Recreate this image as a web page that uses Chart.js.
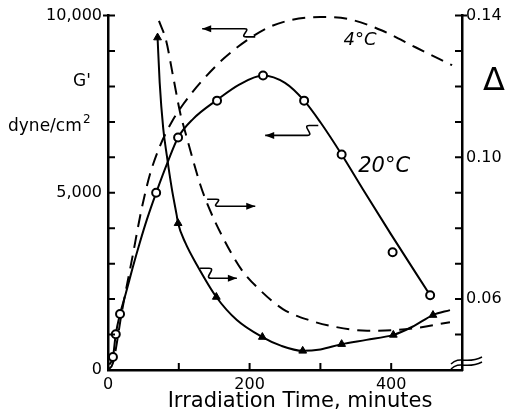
<!DOCTYPE html>
<html>
<head>
<meta charset="utf-8">
<script src="https://cdn.jsdelivr.net/npm/chart.js@4"></script>
<style>
  body { margin: 0; background: #fff; }
  canvas { display: block; }
</style>
</head>
<body>
<canvas id="c" width="507" height="417"></canvas>
<script>
// G' at 20°C - measured points (open circles)
const g20Time = [7, 11, 17, 68, 99, 154, 219, 277, 330, 402, 455];
const g20Val  = [366, 1010, 1580, 5000, 6560, 7600, 8310, 7600, 6080, 3320, 2110];
// G' at 20°C - drawn curve
const g20CurveTime = [2, 7, 11, 17, 25, 35, 45, 55, 68, 85, 99, 120, 154, 186, 219, 250, 277, 300, 330, 360, 400, 455];
const g20CurveVal  = [150, 366, 1010, 1580, 2150, 2900, 3600, 4250, 5000, 5900, 6560, 7080, 7620, 8060, 8310, 8100, 7600, 6990, 6080, 5100, 3820, 2110];

// G' at 4°C - dashed curve
const g4Time = [0, 7, 20, 35, 47, 59, 73, 90, 107, 131, 163, 196, 228, 260, 300, 340, 387, 435, 486];
const g4Val  = [0, 200, 1690, 3240, 4500, 5500, 6300, 7000, 7520, 8120, 8780, 9300, 9680, 9880, 9960, 9900, 9580, 9100, 8600];

// Δ at 20°C - measured points (filled triangles)
const d20Time = [70, 99, 153, 218, 275, 330, 403, 459];
const d20Val  = [0.1338, 0.0814, 0.0606, 0.0493, 0.0454, 0.0473, 0.0499, 0.0555];
// Δ at 20°C - drawn curve
const d20CurveTime = [70, 73, 78, 83, 90, 97, 99, 109, 126, 153, 182, 218, 245, 275, 300, 330, 365, 403, 430, 459, 483];
const d20CurveVal  = [0.1338, 0.1211, 0.1082, 0.1006, 0.0913, 0.0837, 0.0814, 0.0760, 0.0695, 0.0606, 0.0541, 0.0493, 0.0468, 0.0454, 0.0458, 0.0473, 0.0485, 0.0499, 0.0522, 0.0555, 0.0569];

// Δ at 4°C - dashed curve
const d4Time = [72, 82, 92, 102, 110, 119, 130, 140, 162, 189, 215, 247, 285, 320, 366, 400, 440, 483];
const d4Val  = [0.1385, 0.1330, 0.1228, 0.1125, 0.1065, 0.1000, 0.0925, 0.0870, 0.0775, 0.0682, 0.0625, 0.0572, 0.0540, 0.0522, 0.0511, 0.0512, 0.0520, 0.0535];

// tick labels shown
const timeLabels = [0, 200, 400];
const gLabels = [0, 5000, 10000];
const dLabels = [0.06, 0.10, 0.14];

const pts = (xs, ys) => xs.map((x, i) => ({ x: x, y: ys[i] }));

const FONT = "'DejaVu Sans', sans-serif";

// arrows: tail on the curve, head points to the axis
const arrows = [
  { axis: "yG", tail: [208, 9400], head: [133, 9630] },
  { axis: "yG", tail: [297, 6900], head: [222, 6620] },
  { axis: "yD", tail: [140, 0.0882], head: [208, 0.0862] },
  { axis: "yD", tail: [130, 0.0687], head: [182, 0.0659] }
];

const extras = {
  id: "extras",
  afterDraw(chart) {
    const ctx = chart.ctx;
    const { left, right, top, bottom } = chart.chartArea;
    const sx = chart.scales.x, sg = chart.scales.yG, sd = chart.scales.yD;
    ctx.save();
    ctx.strokeStyle = "#000";
    ctx.fillStyle = "#000";
    ctx.lineWidth = 2;

    // inward ticks
    ctx.beginPath();
    sx.ticks.forEach(t => {
      if (t.value <= 0 || t.value >= 500) return;
      const p = sx.getPixelForValue(t.value);
      ctx.moveTo(p, bottom); ctx.lineTo(p, bottom - 7);
    });
    sg.ticks.forEach(t => {
      if (t.value <= 0) return;
      const p = sg.getPixelForValue(t.value);
      ctx.moveTo(left - (t.value === 10000 ? 5 : 0), p); ctx.lineTo(left + 7, p);
    });
    sd.ticks.forEach(t => {
      if (t.value <= 0.0401) return;
      const p = sd.getPixelForValue(t.value);
      ctx.moveTo(right - 7, p); ctx.lineTo(right + (t.value > 0.139 ? 5 : 0), p);
    });
    ctx.stroke();

    // axis break on the right axis
    ctx.lineWidth = 1.5;
    [0, 5].forEach(o => {
      const y = bottom - 9 + o;
      ctx.beginPath();
      ctx.moveTo(right - 11, y + 3);
      ctx.bezierCurveTo(right - 2, y - 6, right + 4, y + 4, right + 20, y - 4);
      ctx.stroke();
    });

    // arrows
    ctx.lineWidth = 1.6;
    arrows.forEach(a => {
      const ys = chart.scales[a.axis];
      const tx = sx.getPixelForValue(a.tail[0]), ty = ys.getPixelForValue(a.tail[1]);
      const hx = sx.getPixelForValue(a.head[0]), hy = ys.getPixelForValue(a.head[1]);
      const d = hx > tx ? 1 : -1;
      const ax = tx + d * 9;
      ctx.beginPath();
      ctx.moveTo(tx, ty);
      ctx.lineTo(ax, ty);
      ctx.bezierCurveTo(ax + d * 8, ty, ax - d * 6, hy, ax + d * 2, hy);
      ctx.lineTo(hx, hy);
      ctx.stroke();
      ctx.beginPath();
      ctx.moveTo(hx, hy);
      ctx.lineTo(hx - d * 9, hy - 3.5);
      ctx.lineTo(hx - d * 9, hy + 3.5);
      ctx.closePath();
      ctx.fill();
    });

    // texts
    ctx.textBaseline = "middle";
    ctx.textAlign = "center";
    ctx.font = "21px " + FONT;
    ctx.fillText("Irradiation Time, minutes", (left + right) / 2 + 15, bottom + 32);
    ctx.font = "17px " + FONT;
    ctx.fillText("G'", left - 26, top + 66);
    ctx.textAlign = "left";
    ctx.fillText("dyne/cm", 8, top + 111);
    ctx.font = "12px " + FONT;
    ctx.fillText("2", 83, top + 104);
    ctx.textAlign = "center";
    ctx.font = "32px " + FONT;
    ctx.fillText("Δ", right + 32, top + 66);
    ctx.font = "italic 18px " + FONT;
    ctx.fillText("4°C", sx.getPixelForValue(356), sg.getPixelForValue(9300));
    ctx.font = "italic 21px " + FONT;
    ctx.fillText("20°C", sx.getPixelForValue(390), sg.getPixelForValue(5750));
    ctx.restore();
  }
};

new Chart(document.getElementById("c"), {
  type: "line",
  data: {
    datasets: [
      {
        label: "G' 20°C",
        data: pts(g20Time, g20Val),
        yAxisID: "yG",
        showLine: false,
        pointStyle: "circle",
        pointRadius: 4,
        pointBorderWidth: 2,
        pointBorderColor: "#000",
        pointBackgroundColor: "#fff",
        order: 0
      },
      {
        label: "Δ 20°C",
        data: pts(d20Time, d20Val),
        yAxisID: "yD",
        showLine: false,
        pointStyle: "triangle",
        pointRadius: 4.5,
        pointBorderWidth: 1,
        pointBorderColor: "#000",
        pointBackgroundColor: "#000",
        order: 0
      },
      {
        label: "G' 20°C curve",
        data: pts(g20CurveTime, g20CurveVal),
        yAxisID: "yG",
        borderColor: "#000",
        borderWidth: 2,
        pointRadius: 0,
        cubicInterpolationMode: "monotone",
        order: 1
      },
      {
        label: "Δ 20°C curve",
        data: pts(d20CurveTime, d20CurveVal),
        yAxisID: "yD",
        borderColor: "#000",
        borderWidth: 2,
        pointRadius: 0,
        cubicInterpolationMode: "monotone",
        order: 1
      },
      {
        label: "G' 4°C",
        data: pts(g4Time, g4Val),
        yAxisID: "yG",
        borderColor: "#000",
        borderWidth: 2,
        borderDash: [13, 8],
        pointRadius: 0,
        cubicInterpolationMode: "monotone",
        order: 1
      },
      {
        label: "Δ 4°C",
        data: pts(d4Time, d4Val),
        yAxisID: "yD",
        borderColor: "#000",
        borderWidth: 2,
        borderDash: [13, 8],
        pointRadius: 0,
        cubicInterpolationMode: "monotone",
        order: 1
      }
    ]
  },
  options: {
    responsive: false,
    animation: false,
    layout: { padding: { top: 15, left: 0, right: 0, bottom: 0 } },
    plugins: {
      legend: { display: false },
      tooltip: { enabled: false }
    },
    scales: {
      x: {
        type: "linear",
        min: 0,
        max: 500,
        afterFit: s => { s.height = 47; },
        ticks: {
          stepSize: 100,
          color: "#000",
          padding: 5,
          maxRotation: 0,
          font: { family: FONT, size: 16 },
          callback: v => timeLabels.includes(v) ? String(v) : ""
        },
        grid: { display: false, drawTicks: false },
        border: { display: true, color: "#000", width: 2.5 }
      },
      yG: {
        type: "linear",
        position: "left",
        min: 0,
        max: 10000,
        afterFit: s => { s.width = 108; },
        ticks: {
          stepSize: 1000,
          color: "#000",
          padding: 6,
          font: { family: FONT, size: 16 },
          callback: v => gLabels.includes(v) ? v.toLocaleString("en-US") : ""
        },
        grid: { display: false, drawTicks: false },
        border: { display: true, color: "#000", width: 2.5 }
      },
      yD: {
        type: "linear",
        position: "right",
        min: 0.04,
        max: 0.14,
        afterFit: s => { s.width = 45; },
        ticks: {
          stepSize: 0.01,
          color: "#000",
          padding: 4,
          font: { family: FONT, size: 16 },
          callback: v => dLabels.some(d => Math.abs(d - v) < 1e-6) ? v.toFixed(2) : ""
        },
        grid: { display: false, drawTicks: false },
        border: { display: true, color: "#000", width: 2.5 }
      }
    }
  },
  plugins: [extras]
});
</script>
</body>
</html>
